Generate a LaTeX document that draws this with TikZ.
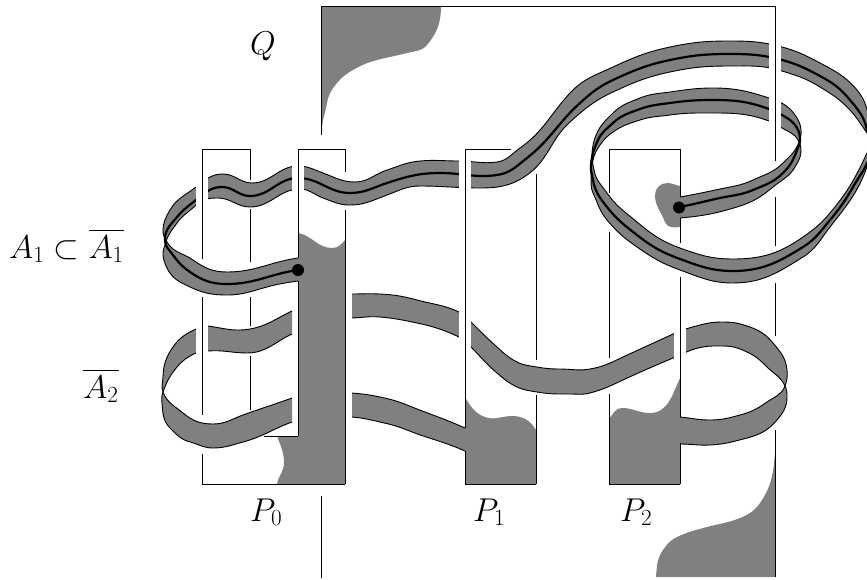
\RequirePackage{fix-cm}
\documentclass[tikz,border=0pt]{standalone}
\usepackage{amsmath}
\usepackage{amssymb}
\definecolor{bandgray}{gray}{0.5}
\tikzset{
	frameline/.style={black, line width=0.9pt},
	bandedge/.style={black, line width=0.9pt},
	corestrand/.style={black, line width=2.2pt},
	regionfill/.style={fill=bandgray, draw=none},
	labeltext/.style={inner sep=0pt, anchor=base west, font=\fontsize{33}{38}\selectfont}
}
% start x, start y, start heading, then x/y/heading of the next points
\newcommand{\knotpath}[4]{(#1,#2) \foreach \x/\y/\d [remember=\d as \pd (initially #3), evaluate=\d as \back using \d+180] in {#4} {to[out=\pd, in=\back] (\x,\y)}}
\newcommand{\knotjoin}[4]{-- (#1,#2) \foreach \x/\y/\d [remember=\d as \pd (initially #3), evaluate=\d as \back using \d+180] in {#4} {to[out=\pd, in=\back] (\x,\y)}}
\newcommand{\bandpiece}[2]{
	\fill[bandgray] \knotpath#1 \knotjoin#2 -- cycle;
	\draw[bandedge] \knotpath#1;
	\draw[bandedge] \knotpath#2;
}
\begin{document}
\begin{tikzpicture}[x=1pt, y=-1pt]
	\useasboundingbox (0,0) rectangle (867,579);
	\clip (0,0) rectangle (867,579);
	% gray regions
	\fill[regionfill] \knotpath{441}{6}{-90}{427/45/-130, 407/53/-165, 377/60/-165, 353/70/-150, 337/83/-130, 327/103/-100, 322/133/-88} -- (321,6) -- cycle;
	\fill[regionfill] \knotpath{775}{453}{-95}{760/503/-125, 740/518/-158, 707/527/-165, 677/537/-155, 663/550/-125, 656/577/-95} -- (775,577) -- cycle;
	\fill[regionfill] \knotpath{298}{233}{-10}{332/248/0, 345/240/50} -- (345,484) \knotjoin{277}{484}{80}{284/463/90, 277/436/110} -- (298,436) -- cycle;
	\fill[regionfill] \knotpath{465}{397}{-60}{485/417/-20, 512/416/0, 536/430/-60} -- (536,484) -- (465,484) -- cycle;
	\fill[regionfill] \knotpath{609}{419}{50}{622/408/0, 650/413/0, 680/378/65} -- (680,484) -- (609,484) -- cycle;
	\fill[regionfill] \knotpath{680}{186}{170}{667/183/180, 655/195/-90, 665/222/-70, 680/227/10} -- cycle;
	% main band with its core
	\bandpiece{{298}{258}{188}{227/272/180, 193/260/145, 167/242/120, 163/230/88, 170/210/60, 196/187/38, 208/178/28, 223/174/0, 252/183/0, 298/166/0, 323/173/-20, 355/182/0, 387/170/18, 420/161/5, 459/161/0, 497/162/8, 520/148/35, 570/93/47, 613/67/25, 670/47/12, 730/41/0, 782/47/-15, 820/63/-28, 857/90/-50, 870/125/-80, 872/140/-100, 867/153/-115, 830/213/-130, 803/237/-145, 733/259/180, 680/248/160, 637/222/140, 607/193/125, 594/170/100, 592/153/85, 597/133/65, 613/113/45, 640/98/22, 670/92/8, 713/88/0, 769/98/-18, 795/115/-55, 801/130/-85, 799/142/-110, 783/163/-135, 753/180/-155, 720/189/-168, 680/197/-170}}{{680}{218}{5}{737/207/17, 773/187/40, 795/167/60, 801/150/92, 798/140/120, 782/128/150, 769/121/160, 713/113/180, 670/115/188, 640/120/198, 613/132/215, 600/145/235, 593/160/255, 591/175/275, 593/193/295, 607/220/310, 637/247/325, 680/270/340, 733/283/0, 803/257/32, 830/227/52, 867/167/70, 874/150/90, 867/133/125, 847/107/135, 820/87/148, 782/71/163, 730/66/180, 670/72/192, 613/92/205, 570/122/222, 527/175/215, 480/188/180, 420/186/180, 387/195/200, 350/205/180, 323/198/160, 300/189/180, 250/207/180, 218/198/180, 196/205/225, 177/223/235, 166/242/255, 163/255/275, 167/268/295, 190/287/335, 227/295/0, 267/287/15, 298/281/8}}
	\draw[corestrand] \knotpath{298}{270}{188}{227/284/180, 190/272/145, 173/255/125, 165/241/95, 177/217/50, 196/200/38, 222/187/0, 250/196/0, 298/178/0, 350/193/0, 387/183/18, 440/173/0, 497/175/8, 527/158/38, 580/103/42, 613/80/25, 670/60/12, 730/54/0, 782/60/-15, 820/76/-28, 850/100/-50, 867/130/-78, 872/145/-95, 853/187/-120, 830/220/-130, 803/247/-148, 733/271/180, 680/259/160, 637/235/142, 607/207/128, 593/180/100, 591/165/85, 598/140/65, 613/123/43, 640/109/20, 670/103/8, 713/100/0, 769/109/-20, 782/115/-30, 797/128/-60, 800/140/-90, 797/150/-110, 783/173/-135, 753/190/-157, 720/198/-168, 679/207/-170};
	% second band, left part
	\bandpiece{{292}{311}{205}{250/329/190, 208/326/172, 196/329/205, 173/347/235, 163/377/268, 163/392/290, 183/413/320, 213/424/0, 243/415/20, 292/398/20}}{{292}{422}{200}{243/442/195, 213/448/180, 190/442/165, 170/428/135, 162/403/95, 163/392/70, 177/367/50, 196/353/25, 208/351/5, 247/353/0, 292/334/25}}
	% second band, right part
	\bandpiece{{352}{294}{0}{380/294/-3, 417/300/-15, 459/312/-25, 471/322/-45, 497/347/-42, 517/362/-27, 537/367/-10, 560/369/0, 590/369/10, 623/357/25, 673/334/25, 700/325/15, 723/322/0, 750/327/-20, 773/343/-50, 787/370/-85, 785/386/-110, 767/402/-145, 740/415/-165, 710/420/180, 680/417/175}}{{680}{444}{0}{710/445/3, 747/438/15, 777/420/50, 787/397/90, 785/386/115, 767/367/135, 747/352/155, 723/346/180, 703/347/190, 673/358/203, 623/380/205, 590/393/195, 570/394/180, 537/392/170, 517/387/155, 497/373/140, 471/347/135, 459/337/155, 417/323/168, 380/317/175, 352/318/182}}
	% strip into P1
	\bandpiece{{352}{393}{-5}{380/397/-12, 407/405/-22, 465/428/-24}}{{465}{451}{156}{407/430/158, 380/422/167, 352/417/175}}
	% cuts in the bands
	\foreach \x/\ya/\yb in {202/170/218, 297.5/155/200, 465/150/196, 775/34/78, 775/88/132, 202/318/360, 465/305/352, 680/326/364}
		\fill[white] (\x-6,\ya) rectangle (\x+6,\yb);
	% frame lines
	\foreach \x/\ya/\yb in {202/149/259, 202/297/415, 202/454/484, 250/149/180, 250/209/262, 250/297/326, 250/356/410, 298/149/258, 298/281/436, 345/149/172, 345/210/484, 321/6/135, 321/496/578, 465/149/428, 465/451/484, 536/174/360, 536/395/484, 609/149/193, 609/232/358, 609/394/484, 680/149/197, 680/218/243, 680/277/417, 680/443/484, 775/6/161, 775/197/246, 775/283/336, 775/430/577}
		\draw[frameline, line cap=rect] (\x,\ya) -- (\x,\yb);
	\foreach \xa/\xb/\y in {202/250/149, 298/345/149, 465/511/149, 609/680/149, 321/775/6, 202/345/484, 264/298/436, 465/536/484, 609/680/484}
		\draw[frameline, line cap=rect] (\xa,\y) -- (\xb,\y);
	% end points
	\fill (298,270) circle (6);
	\fill (679,207.5) circle (6);
	% labels
	\node[labeltext] (labelq) at (250,54) {$Q$};
	\node[labeltext] (labela) at (9,258) {$A_1\subset\overline{A_1}$};
	\node[labeltext] (labelb) at (83,398) {$\overline{A_2}$};
	\node[labeltext] (labelp) at (250,521) {$P_0$};
	\node[labeltext] (labelr) at (473,521) {$P_1$};
	\node[labeltext] (labels) at (620,521) {$P_2$};
\end{tikzpicture}
\end{document}
